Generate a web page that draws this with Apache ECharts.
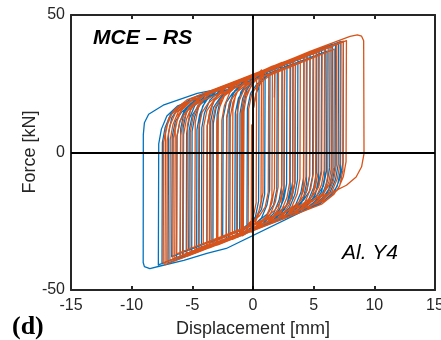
<!DOCTYPE html>
<html>
<head>
<meta charset="utf-8">
<script src="https://cdn.jsdelivr.net/npm/echarts@6/dist/echarts.min.js"></script>
<style>
html,body{margin:0;padding:0;background:#fff;}
#chart{width:441px;height:340px;}
</style>
</head>
<body>
<div id="chart"></div>
<script>
// Tick values
const displacementTicks = [-15, -10, -5, 0, 5, 10, 15];
const forceTicks = [-50, 0, 50];

// Blue test record: [displacement (mm), force (kN)]
const blueLoop = [
[0,0],[0.03,16],[0.25,21.4],[0.7,26.2],[1.4,30.3],
[1.37,-13.7],[1.15,-19.1],[0.7,-23.8],[-0.2,-27.5],[-1.1,-29.8],
[-1.07,14.2],[-0.85,19.6],[-0.4,24.3],[0.5,28.0],[2.4,32.0],
[2.37,-12.0],[2.15,-17.4],[1.7,-22.2],[0.8,-25.9],[-2.2,-31.6],
[-2.17,12.4],[-1.95,17.8],[-1.5,22.5],[-0.6,26.2],[3.3,33.5],
[3.27,-10.6],[3.05,-16.0],[2.6,-20.7],[1.7,-24.4],[-3.3,-33.5],
[-3.27,10.6],[-3.05,16.0],[-2.6,20.7],[-1.7,24.4],[4.2,34.9],
[4.17,-9.1],[3.95,-14.5],[3.5,-19.2],[2.6,-22.9],[-3.8,-34.3],
[-3.77,9.7],[-3.55,15.1],[-3.1,19.9],[-2.2,23.6],[5.25,36.7],
[5.22,-7.3],[5.0,-12.7],[4.55,-17.5],[3.65,-21.2],[-4.65,-35.7],
[-4.62,8.3],[-4.4,13.7],[-3.95,18.5],[-3.05,22.2],[6.35,38.5],
[6.32,-5.5],[6.1,-10.9],[5.65,-15.7],[4.75,-19.4],[-5.5,-37.1],
[-5.47,6.9],[-5.25,12.3],[-4.8,17.1],[-3.9,20.8],[7.45,40.3],
[7.42,-3.7],[7.2,-9.1],[6.75,-13.9],[5.85,-17.6],[-2.2,-34.9],[-3.8,-36.7],[-5.7,-39.2],[-7.4,-41.0],[-8.5,-42.2],[-8.95,-41.5],[-9.05,-40.0],
[-9.04,6.5],[-8.95,10.8],[-8.6,13.9],[-7.4,17.2],[-4.6,21.5],[-1.9,23.9],[7.05,39.6],
[7.02,-4.4],[6.8,-9.8],[6.35,-14.5],[5.45,-18.2],[-7.8,-40.9],
[-7.77,3.1],[-7.55,8.5],[-7.1,13.3],[-6.2,17.0],[6.8,39.2],
[6.77,-4.8],[6.55,-10.2],[6.1,-14.9],[5.2,-18.6],[-7.5,-40.4],
[-7.47,3.6],[-7.25,9.0],[-6.8,13.8],[-5.9,17.5],[5.65,37.3],
[5.62,-6.7],[5.4,-12.1],[4.95,-16.8],[4.05,-20.5],[-6.3,-38.4],
[-6.27,5.6],[-6.05,11.0],[-5.6,15.8],[-4.7,19.5],[4.7,35.8],
[4.67,-8.3],[4.45,-13.7],[4.0,-18.4],[3.1,-22.1],[-5.05,-36.3],
[-5.02,7.7],[-4.8,13.1],[-4.35,17.8],[-3.45,21.5],[3.7,34.1],
[3.67,-9.9],[3.45,-15.3],[3.0,-20.1],[2.1,-23.7],[-4.25,-35.0],
[-4.22,9.0],[-4.0,14.4],[-3.55,19.1],[-2.65,22.8],[2.8,32.6],
[2.77,-11.4],[2.55,-16.8],[2.1,-21.5],[1.2,-25.2],[-0.5,-28.8],
[-0.46,16.0],[-0.2,21.5],[0.3,24.8],[1.3,28.3],[6.1,36.9],
[6.06,-6.7],[5.8,-12.2],[5.3,-15.5],[4.3,-19.0],[-6.7,-37.9],
[-6.66,5.8],[-6.4,11.3],[-5.9,14.6],[-4.9,18.1],[4.95,35.0],
[4.91,-8.6],[4.65,-14.1],[4.15,-17.4],[3.15,-20.9],[-5.3,-35.5],
[-5.26,8.1],[-5.0,13.6],[-4.5,16.9],[-3.5,20.4],[3.5,32.6],
[3.46,-11.0],[3.2,-16.5],[2.7,-19.8],[1.7,-23.3],[-3.55,-32.7],
[-3.51,10.9],[-3.25,16.4],[-2.75,19.7],[-1.75,23.2],[2.0,30.1],
[1.96,-13.5],[1.7,-19.0],[1.2,-22.3],[0.2,-25.8],[-2.5,-30.9],
[-2.46,12.7],[-2.2,18.2],[-1.7,21.5],[-0.7,25.0],[1.0,28.5],
[0.96,-15.2],[0.7,-20.7],[0.2,-24.0],[-0.8,-27.5],[-1.5,-29.3],
[-1.46,14.3],[-1.2,19.8],[-0.7,23.1],[0.5,27.6],
[0.46,-17.8],[0.2,-23.3],[-0.3,-26.6],[-1.3,-30.1],[-7.0,-40.2],
[-6.96,7.1],[-6.7,12.6],[-6.2,15.9],[-5.2,19.4],[7.25,40.4],
[7.21,-6.6],[6.95,-12.1],[6.45,-15.4],[5.45,-18.9],[-6.0,-38.5],
[-5.96,8.7],[-5.7,14.2],[-5.2,17.5],[-4.2,21.0],[6.55,39.4],
[6.51,-7.8],[6.25,-13.3],[5.75,-16.6],[4.75,-20.1],[-5.8,-38.2],
[-5.76,9.0],[-5.5,14.5],[-5.0,17.8],[-4.0,21.3],[5.95,38.4],
[5.91,-8.8],[5.65,-14.3],[5.15,-17.6],[4.15,-21.1],[-4.45,-35.9],
[-4.41,11.3],[-4.15,16.8],[-3.65,20.1],[-2.65,23.6],[5.45,37.6],
[5.41,-9.6],[5.15,-15.1],[4.65,-18.4],[3.65,-21.9],[-3.0,-33.6],
[-2.96,13.7],[-2.7,19.2],[-2.2,22.5],[-1.2,26.0],[4.45,35.9],
[4.41,-11.3],[4.15,-16.8],[3.65,-20.1],[2.65,-23.6],[-2.0,-31.9],
[-1.96,15.3],[-1.7,20.8],[-1.2,24.1],[-0.2,27.6],[3.1,33.7],
[3.06,-13.5],[2.8,-19.0],[2.3,-22.3],[1.3,-25.8],[-1.3,-30.8],
[-1.26,16.5],[-1.0,22.0],[-0.5,25.3],[0.5,28.8],[2.6,32.9],
[2.56,-14.3],[2.3,-19.8],[1.8,-23.1],[0.8,-26.6],[-0.8,-29.9],
[-0.76,17.3],[-0.5,22.8],[0.0,26.1],[1.0,29.6],[1.8,31.6],
[1.76,20]
];

// Orange test record: [displacement (mm), force (kN)]
const orangeLoop = [
[0,0],[0.03,16],[0.25,21.4],[0.55,26.0],[0.85,29.4],
[0.82,-14.6],[0.6,-20.0],[0.15,-24.8],[-0.8,-29.3],
[-0.77,14.7],[-0.55,20.1],[-0.1,24.8],[0.8,28.5],[1.8,31.0],
[1.77,-13.0],[1.55,-18.4],[1.1,-23.2],[0.2,-26.9],[-1.9,-31.1],
[-1.87,12.9],[-1.65,18.3],[-1.2,23.0],[-0.3,26.7],[3.05,33.0],
[3.02,-11.0],[2.8,-16.4],[2.35,-21.1],[1.45,-24.8],[-3.0,-33.0],
[-2.97,11.1],[-2.75,16.5],[-2.3,21.2],[-1.4,24.9],[4.4,35.3],
[4.37,-8.7],[4.15,-14.1],[3.7,-18.9],[2.8,-22.6],[-3.8,-34.3],
[-3.77,9.7],[-3.55,15.1],[-3.1,19.9],[-2.2,23.6],[5.4,36.9],
[5.37,-7.1],[5.15,-12.5],[4.7,-17.2],[3.8,-20.9],[-5.2,-36.6],
[-5.17,7.4],[-4.95,12.8],[-4.5,17.6],[-3.6,21.3],[6.5,38.7],
[6.47,-5.3],[6.25,-10.7],[5.8,-15.4],[4.9,-19.1],[-6.0,-37.9],
[-5.97,6.1],[-5.75,11.5],[-5.3,16.3],[-4.4,19.9],[7.7,40.7],
[7.67,-3.3],[7.45,-8.7],[7.0,-13.5],[6.1,-17.1],[-7.4,-40.2],
[-7.37,3.8],[-7.15,9.2],[-6.7,13.9],[-5.8,17.6],[4.7,36.8],[7.0,40.6],[8.0,42.2],[8.6,42.8],[8.95,42.3],[9.12,40.6],
[9.15,-0.4],[8.95,-5.2],[8.5,-8.9],[7.7,-11.9],[6.6,-14.3],[5.25,-16.7],[-7.1,-39.7],
[-7.07,4.3],[-6.85,9.7],[-6.4,14.4],[-5.5,18.1],[7.2,39.9],
[7.17,-4.1],[6.95,-9.5],[6.5,-14.3],[5.6,-18.0],[-6.85,-39.3],
[-6.82,4.7],[-6.6,10.1],[-6.15,14.9],[-5.25,18.5],[6.9,39.4],
[6.87,-4.6],[6.65,-10.0],[6.2,-14.8],[5.3,-18.5],[-6.6,-38.9],
[-6.57,5.1],[-6.35,10.5],[-5.9,15.3],[-5.0,19.0],[5.9,37.7],
[5.87,-6.3],[5.65,-11.7],[5.2,-16.4],[4.3,-20.1],[-5.75,-37.5],
[-5.72,6.5],[-5.5,11.9],[-5.05,16.7],[-4.15,20.4],[5.0,36.3],
[4.97,-7.8],[4.75,-13.2],[4.3,-17.9],[3.4,-21.6],[-2.6,-32.3],
[-2.57,11.7],[-2.35,17.1],[-1.9,21.9],[-1.0,25.6],[3.9,34.4],
[3.87,-9.6],[3.65,-15.0],[3.2,-19.7],[2.3,-23.4],[-1.35,-30.2],
[-1.32,13.8],[-1.1,19.2],[-0.65,23.9],[0.25,27.6],[2.1,31.5],
[2.07,-12.5],[1.85,-17.9],[1.4,-22.7],[0.5,-26.4],[-0.4,-28.7],
[-0.36,15.8],[-0.1,21.3],[0.4,24.6],[1.4,28.1],[6.7,37.6],
[6.66,-5.5],[6.4,-11.0],[5.9,-14.3],[4.9,-17.8],[-6.3,-36.9],
[-6.26,6.1],[-6.0,11.6],[-5.5,14.9],[-4.5,18.4],[5.7,35.9],
[5.66,-7.1],[5.4,-12.6],[4.9,-15.9],[3.9,-19.4],[-4.5,-33.9],
[-4.46,9.1],[-4.2,14.6],[-3.7,17.9],[-2.7,21.4],[4.7,34.3],
[4.66,-8.8],[4.4,-14.3],[3.9,-17.6],[2.9,-21.1],[-4.1,-33.3],
[-4.06,9.7],[-3.8,15.2],[-3.3,18.5],[-2.3,22.0],[3.5,32.3],
[3.46,-10.7],[3.2,-16.2],[2.7,-19.5],[1.7,-23.0],[-3.4,-32.1],
[-3.36,10.9],[-3.1,16.4],[-2.6,19.7],[-1.6,23.2],[2.6,30.8],
[2.56,-12.2],[2.3,-17.7],[1.8,-21.0],[0.8,-24.5],[-2.2,-30.1],
[-2.16,12.9],[-1.9,18.4],[-1.4,21.7],[-0.4,25.2],[1.3,28.7],
[1.26,-14.4],[1.0,-19.9],[0.5,-23.2],[-0.5,-26.7],[-1.0,-28.2],
[-0.96,14.9],[-0.7,20.4],[-0.2,23.7],[0.3,27.0],
[0.26,-18.3],[0.0,-23.8],[-0.5,-27.1],[-1.5,-30.6],[-7.25,-40.8],
[-7.21,6.8],[-6.95,12.3],[-6.45,15.6],[-5.45,19.1],[7.45,40.5],
[7.41,-6.5],[7.15,-12.0],[6.65,-15.3],[5.65,-18.8],[-6.45,-39.4],
[-6.41,8.2],[-6.15,13.7],[-5.65,17.0],[-4.65,20.5],[6.2,39.0],
[6.16,-8.6],[5.9,-14.1],[5.4,-17.4],[4.4,-20.9],[-5.45,-37.8],
[-5.41,9.8],[-5.15,15.3],[-4.65,18.6],[-3.65,22.1],[5.2,37.4],
[5.16,-10.2],[4.9,-15.7],[4.4,-19.0],[3.4,-22.5],[-4.8,-36.7],
[-4.76,10.9],[-4.5,16.4],[-4.0,19.7],[-3.0,23.2],[4.2,35.7],
[4.16,-11.9],[3.9,-17.4],[3.4,-20.7],[2.4,-24.2],[-3.6,-34.7],
[-3.56,12.9],[-3.3,18.4],[-2.8,21.7],[-1.8,25.2],[3.3,34.2],
[3.26,-13.4],[3.0,-18.9],[2.5,-22.2],[1.5,-25.7],[-2.9,-33.6],
[-2.86,14.0],[-2.6,19.5],[-2.1,22.8],[-1.1,26.3],[2.4,32.8],
[2.36,-14.8],[2.1,-20.3],[1.6,-23.6],[0.6,-27.1],[-1.7,-31.6],
[-1.66,16.0],[-1.4,21.5],[-0.9,24.8],[0.1,28.3],[1.6,31.4],
[1.56,-16.2],[1.3,-21.7],[0.8,-25.0],[-0.2,-28.5],[-0.9,-30.3],
[-0.86,17.3],[-0.6,22.8],[-0.1,26.1],[0.7,30.0],
[0.66,-17.7],[0.4,-23.2],[-0.15,-29.0],
[-0.11,10],[-0.05,0]
];

const seriesNames = ['Blue', 'Orange'];
const seriesColors = ['#0072BD', '#D95319'];

const sans = '"Liberation Sans", Arial, Helvetica, sans-serif';
const axisColor = '#262626';

const xMin = displacementTicks[0], xMax = displacementTicks[displacementTicks.length - 1];
const xInt = displacementTicks[1] - displacementTicks[0];
const yMin = forceTicks[0], yMax = forceTicks[forceTicks.length - 1];
const yInt = forceTicks[1] - forceTicks[0];

function xAxisCfg(pos, showLabel) {
  return {
    type: 'value', position: pos, min: xMin, max: xMax, interval: xInt,
    axisLine: { show: true, onZero: false, lineStyle: { color: axisColor, width: 2 } },
    axisTick: { show: true, inside: true, length: 4, lineStyle: { color: axisColor, width: 2 } },
    axisLabel: { show: showLabel, fontSize: 16, color: axisColor, fontFamily: sans, margin: 8, hideOverlap: false },
    splitLine: { show: false }
  };
}
function yAxisCfg(pos, showLabel) {
  return {
    type: 'value', position: pos, min: yMin, max: yMax, interval: yInt,
    axisLine: { show: true, onZero: false, lineStyle: { color: axisColor, width: 2 } },
    axisTick: { show: true, inside: true, length: 4, lineStyle: { color: axisColor, width: 2 } },
    axisLabel: { show: showLabel, fontSize: 16, color: axisColor, fontFamily: sans, margin: 6 },
    splitLine: { show: false }
  };
}

const chart = echarts.init(document.getElementById('chart'), null, { renderer: 'canvas' });
chart.setOption({
  animation: false,
  backgroundColor: '#ffffff',
  grid: { left: 71, right: 6, top: 15, bottom: 50, containLabel: false, outerBoundsMode: 'none' },
  xAxis: [xAxisCfg('bottom', true), xAxisCfg('top', false)],
  yAxis: [yAxisCfg('left', true), yAxisCfg('right', false)],
  series: [
    {
      name: seriesNames[0], type: 'line', data: blueLoop, xAxisIndex: 0, yAxisIndex: 0,
      showSymbol: false, symbol: 'none', z: 2,
      lineStyle: { color: seriesColors[0], width: 1.3, join: 'round' }
    },
    {
      name: seriesNames[1], type: 'line', data: orangeLoop, xAxisIndex: 0, yAxisIndex: 0,
      showSymbol: false, symbol: 'none', z: 3,
      lineStyle: { color: seriesColors[1], width: 1.3, join: 'round' }
    },
    {
      name: 'zero', type: 'line', data: [], z: 5, xAxisIndex: 0, yAxisIndex: 0,
      markLine: {
        silent: true, symbol: ['none', 'none'], animation: false,
        label: { show: false },
        lineStyle: { color: '#000', width: 1.8, type: 'solid' },
        emphasis: { disabled: true },
        data: [{ xAxis: 0 }, { yAxis: 0 }]
      }
    }
  ],
  graphic: [
    { type: 'text', x: 93, y: 38, z: 10,
      style: { text: 'MCE \u2013 RS', font: 'italic bold 21px ' + sans, fill: '#000', align: 'left', verticalAlign: 'middle' } },
    { type: 'text', x: 342, y: 253, z: 10,
      style: { text: 'Al. Y4', font: 'italic 21px ' + sans, fill: '#000', align: 'left', verticalAlign: 'middle' } },
    { type: 'text', x: 12, y: 327, z: 10,
      style: { text: '(d)', font: 'bold 26px "Liberation Serif", "Times New Roman", serif', fill: '#000', align: 'left', verticalAlign: 'middle' } },
    { type: 'text', x: 253, y: 329, z: 10,
      style: { text: 'Displacement [mm]', font: '18px ' + sans, fill: axisColor, align: 'center', verticalAlign: 'middle' } },
    { type: 'text', x: 30, y: 152, rotation: Math.PI / 2, z: 10,
      style: { text: 'Force [kN]', font: '18px ' + sans, fill: axisColor, align: 'center', verticalAlign: 'middle' } }
  ]
});
</script>
</body>
</html>
